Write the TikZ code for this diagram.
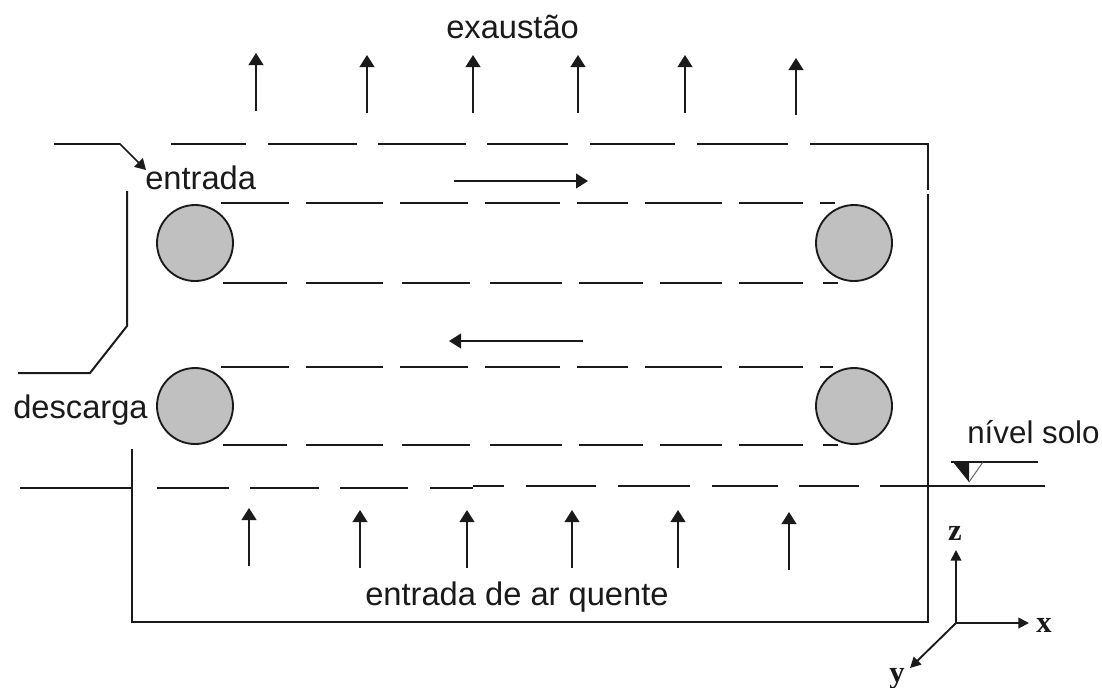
\documentclass[tikz,border=0pt]{standalone}
\usepackage{fontspec}
\setmainfont{Liberation Sans}
\newfontfamily\axisfont{Liberation Serif}
\usetikzlibrary{arrows.meta}
\tikzset{
  wall/.style={line width=1.5pt,color=ink},
  flow/.style={line width=1.5pt,color=ink,-{Triangle[length=9pt,width=11pt]}},
  axis/.style={line width=1.4pt,color=ink,-{Triangle[length=8pt,width=8pt]}},
  roller/.style={circle,draw=ink,fill=rollergray,line width=1.4pt,minimum size=57pt,inner sep=0pt},
  lbl/.style={anchor=base west,inner sep=0pt,text=ink,font=\fontsize{24.5}{28}\selectfont},
  axlbl/.style={anchor=base,inner sep=0pt,text=ink,font=\axisfont\bfseries\fontsize{23}{25}\selectfont}
}
\definecolor{ink}{HTML}{1A1A1A}
\definecolor{rollergray}{HTML}{C0C0C0}
\newcommand{\dashrow}[2]{\foreach \a/\b in {#2} \draw[wall] (\a,#1) -- (\b,#1);}
\newcommand{\flowarrow}[6]{%
  \coordinate (#1t) at (#2,#3);
  \coordinate (#1h) at (#4,#5);
  \draw[#6] (#1t) -- (#1h);}
\begin{document}
\begin{tikzpicture}[x=0.75pt,y=-0.75pt]
\useasboundingbox (0,0) rectangle (1102,687);
\fill[white] (0,0) rectangle (1102,687);

% top cover, dashed, and right wall
\dashrow{144}{171/246,268/357,378/466,487/568,590/675,697/788}
\coordinate (cornerTL) at (810,144);
\coordinate (cornerTR) at (928,144);
\coordinate (wallGapA) at (928,190);
\coordinate (wallGapB) at (928,194);
\coordinate (cornerBR) at (928,622);
\coordinate (cornerBL) at (132,622);
\coordinate (wallL) at (132,449);
\draw[wall] (cornerTL) -- (cornerTR) -- (wallGapA);
\draw[wall] (wallGapB) -- (cornerBR) -- (cornerBL) -- (wallL);

% belts
\dashrow{203}{221/289,306/383,400/468,485/560,577/628,645/722,739/803,820/835}
\dashrow{283}{223/287,306/383,402/470,490/562,579/643,660/722,739/803,823/838}
\dashrow{367}{221/289,306/383,400/468,485/560,577/628,645/722,739/803,820/833}
\dashrow{445}{223/287,306/383,402/470,490/562,579/643,660/722,739/803,823/838}

% ground line
\draw[wall] (20,488) -- (132,488);
\dashrow{488}{157/229,250/319,340/408,430/473}
\dashrow{486}{473/504,526/596,618/690,712/778,799/859,880/1045}

% rollers
\node[roller] (r1) at (195,243) {};
\node[roller] (r2) at (854,243) {};
\node[roller] (r3) at (195,406) {};
\node[roller] (r4) at (854,406) {};

% exhaust arrows
\flowarrow{u1}{256}{111}{256}{53}{flow}
\flowarrow{u2}{367}{113}{367}{55}{flow}
\flowarrow{u3}{473}{113}{473}{55}{flow}
\flowarrow{u4}{578}{113}{578}{55}{flow}
\flowarrow{u5}{685}{113}{685}{55}{flow}
\flowarrow{u6}{796}{115}{796}{58}{flow}

% inlet arrows
\flowarrow{d1}{249}{566}{249}{508}{flow}
\flowarrow{d2}{360}{568}{360}{510}{flow}
\flowarrow{d3}{467}{568}{467}{510}{flow}
\flowarrow{d4}{572}{568}{572}{510}{flow}
\flowarrow{d5}{678}{568}{678}{510}{flow}
\flowarrow{d6}{789}{570}{789}{512}{flow}

% belt direction arrows
\flowarrow{b1}{454}{181}{588}{181}{flow}
\flowarrow{b2}{583}{341}{449}{341}{flow}

% feed and discharge chutes
\coordinate (feedA) at (54,144);
\coordinate (feedB) at (120,144);
\coordinate (feedC) at (146,170);
\draw[line width=1.3pt,color=ink,-{Triangle[length=8pt,width=9pt]}] (feedA) -- (feedB) -- (feedC);
\coordinate (chuteA) at (127,191);
\coordinate (chuteB) at (127,326);
\coordinate (chuteC) at (90,373);
\coordinate (chuteD) at (18,373);
\draw[wall] (chuteA) -- (chuteB) -- (chuteC) -- (chuteD);

% ground level marker
\coordinate (lvlA) at (951,462);
\coordinate (lvlB) at (1038,462);
\coordinate (lvlTip) at (969,482);
\coordinate (lvlMid) at (969,462);
\coordinate (lvlR) at (983,462);
\draw[wall] (lvlA) -- (lvlB);
\fill[ink] (953,462) -- (lvlMid) -- (lvlTip) -- cycle;
\draw[line width=0.7pt,color=ink!70] (lvlTip) -- (lvlR);

% axes
\coordinate (orig) at (956,623);
\coordinate (axz) at (956,550);
\coordinate (axx) at (1029,623);
\coordinate (axy) at (910,668);
\draw[axis] (orig) -- (axz);
\draw[axis] (orig) -- (axx);
\draw[axis] (orig) -- (axy);
\node[axlbl] (zl) at (955,540) {z};
\node[axlbl] (xl) at (1044,632) {x};
\node[axlbl] (yl) at (897,682) {y};

% labels
\node[lbl] (t1) at (446,38) {exaustão};
\node[lbl] (t2) at (145,189) {entrada};
\node[lbl] (t3) at (13,418) {descarga};
\node[lbl,font=\fontsize{23.5}{28}\selectfont] (t4) at (967,443) {nível solo};
\node[lbl] (t5) at (365,605) {entrada de ar quente};
\end{tikzpicture}
\end{document}
